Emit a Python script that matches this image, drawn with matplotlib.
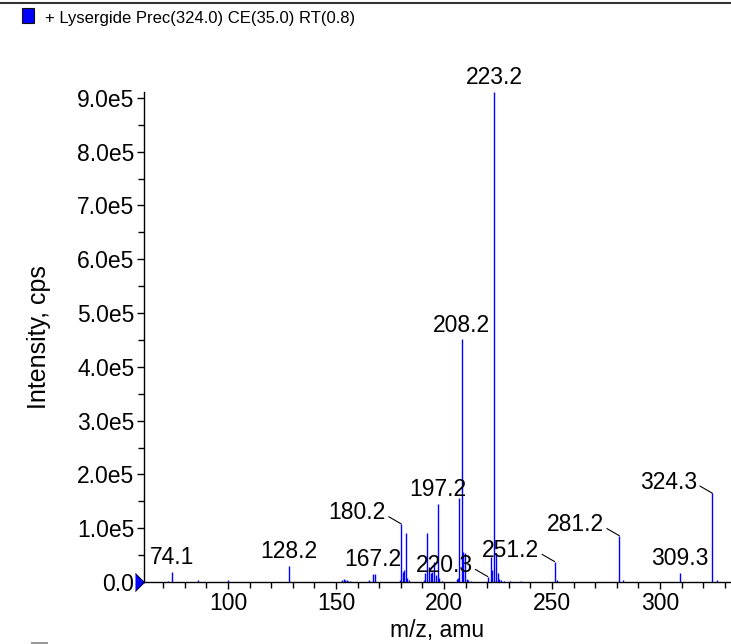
"""
Lysergide MS/MS spectrum
"""
import matplotlib
matplotlib.use("Agg")
import matplotlib.pyplot as plt
from matplotlib.lines import Line2D
from matplotlib.patches import Rectangle
from matplotlib.ticker import MultipleLocator, FuncFormatter

plt.rcParams['font.family'] = ['Liberation Sans', 'DejaVu Sans']

# peak list (m/z, intensity in cps)
mz = [72.0, 74.1, 86.1, 100.1, 128.2,
      152.9, 153.6, 154.2, 155.0, 155.7, 156.5,
      165.4, 167.2, 168.2,
      179.5, 180.2, 180.9, 181.7, 182.2, 183.0, 183.8,
      190.8, 191.4, 192.2, 193.0, 193.8, 194.6, 195.4, 196.2, 197.2, 197.9, 199.0,
      205.9, 206.6, 207.1, 208.2, 209.0, 209.7, 210.5, 211.3, 212.5,
      220.3, 221.6, 222.4, 223.2, 224.1, 224.9, 225.7, 226.5, 228.0, 230.5, 235.6,
      251.2, 252.5, 281.2, 282.7, 309.3, 324.3, 326.2]
intensity = [2e3, 1.9e4, 3e3, 3.5e3, 3.0e4,
             4e3, 5e3, 3e3, 4e3, 2e3, 2e3,
             3e3, 1.5e4, 1.5e4,
             3e3, 1.08e5, 1.9e4, 2.2e4, 9.1e4, 7e3, 3e3,
             3e3, 1.6e4, 9.1e4, 2.8e4, 1.7e4, 1.9e4, 3.8e4, 1.3e4, 1.45e5, 8e3, 2e3,
             5e3, 7e3, 1.56e5, 4.51e5, 5.6e4, 5.4e4, 6e3, 3e3, 2e3,
             1.0e4, 4.7e4, 2.2e4, 9.11e5, 5.2e4, 1.6e4, 6e3, 3e3, 2e3, 2e3, 2e3,
             3.8e4, 3e3, 8.6e4, 3e3, 1.7e4, 1.65e5, 3e3]

# labelled peaks; those in leader_labels get a text offset to the upper left
labels = [74.1, 128.2, 167.2, 180.2, 197.2, 208.2, 220.3, 223.2, 251.2, 281.2, 309.3, 324.3]
leader_labels = [180.2, 220.3, 251.2, 281.2, 324.3]

title = "+ Lysergide Prec(324.0) CE(35.0) RT(0.8)"
fs = 16.5

fig = plt.figure(figsize=(7.31, 6.44), dpi=100)
ax = fig.add_axes([144 / 731, 62 / 644, 587 / 731, 490 / 644])

ax.vlines(mz, 0, intensity, color='#0000ff', lw=1.0)

ax.set_xlim(61.1, 332.9)
ax.set_ylim(0, max(intensity))

ax.xaxis.set_major_locator(MultipleLocator(50))
ax.xaxis.set_minor_locator(MultipleLocator(10))
ax.yaxis.set_major_locator(MultipleLocator(1e5))
ax.yaxis.set_minor_locator(MultipleLocator(5e4))
ax.yaxis.set_major_formatter(FuncFormatter(
    lambda v, p: "0.0" if v == 0 else "%.1fe5" % (v / 1e5)))

for s in ['top', 'right']:
    ax.spines[s].set_visible(False)
for s in ['left', 'bottom']:
    ax.spines[s].set_linewidth(1.0)
ax.tick_params(which='major', length=5, width=1, labelsize=fs, pad=2)
ax.tick_params(which='minor', length=4, width=1)

ax.set_xlabel("m/z, amu", fontsize=fs, labelpad=3)
ax.set_ylabel("Intensity, cps", fontsize=18, labelpad=19)

for lab in labels:
    i = mz.index(lab)
    y = intensity[i]
    if lab in leader_labels:
        ax.annotate("%.1f" % lab, xy=(lab, y), xytext=(-11, 8),
                    textcoords='offset points', ha='right', va='center',
                    fontsize=fs,
                    arrowprops=dict(arrowstyle='-', lw=0.8, color='black',
                                    shrinkA=0, shrinkB=0, relpos=(1, 0.4)))
    else:
        ax.annotate("%.1f" % lab, xy=(lab, y), xytext=(0, 2),
                    textcoords='offset points', ha='center', va='bottom',
                    fontsize=fs)

# blue triangle marker at the y origin
ax.plot([61.1], [0], marker=[(-1, -1), (0, 0), (-1, 1)], ms=13,
        color='#0000ff', mec='black', mew=0.6, clip_on=False, zorder=5)

# header: frame line, legend square and title
fig.add_artist(Line2D([0, 1], [1 - 2.5 / 644, 1 - 2.5 / 644], color='#333333', lw=1.5))
fig.add_artist(Rectangle((22 / 731, 1 - 23 / 644), 12 / 731, 15 / 644,
                         facecolor='#0000ff', edgecolor='#111111', lw=0.8))
fig.text(45 / 731, 1 - 19 / 644, title, fontsize=12, va='center', ha='left')
fig.add_artist(Rectangle((31 / 731, 0), 17 / 731, 2 / 644,
                         facecolor='#999999', edgecolor='none'))

fig.savefig("out.png", dpi=100)
